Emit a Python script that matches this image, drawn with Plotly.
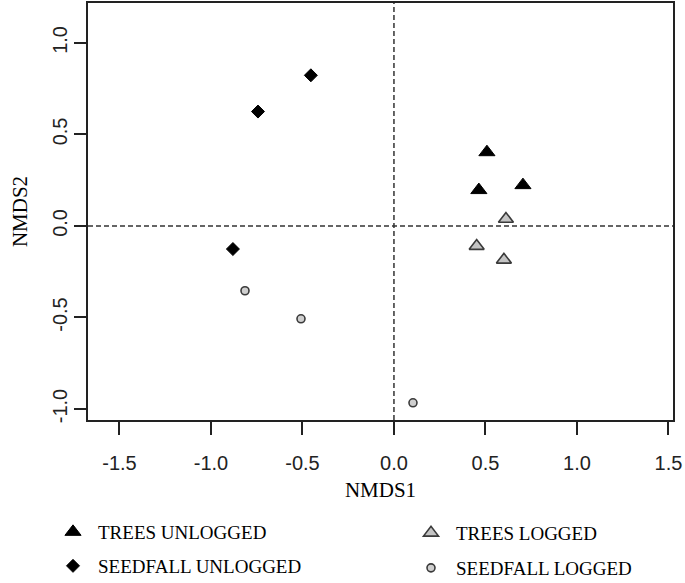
import plotly.graph_objects as go

# Data
tu_x = [0.508, 0.464, 0.705]
tu_y = [0.403, 0.196, 0.223]
tl_x = [0.612, 0.452, 0.601]
tl_y = [0.038, -0.110, -0.185]
su_x = [-0.454, -0.743, -0.880]
su_y = [0.823, 0.625, -0.126]
sl_x = [-0.814, -0.508, 0.104]
sl_y = [-0.354, -0.507, -0.966]

x_ticks = [-1.5, -1.0, -0.5, 0.0, 0.5, 1.0, 1.5]
y_ticks = [-1.0, -0.5, 0.0, 0.5, 1.0]

serif = "Liberation Serif, Times New Roman, serif"
sans = "Liberation Sans, Arial, sans-serif"

fig = go.Figure()
fig.add_trace(go.Scatter(x=tu_x, y=tu_y, mode="markers", name="TREES UNLOGGED",
                         marker=dict(symbol="triangle-up", size=14, color="black",
                                     line=dict(color="black", width=1)),
                         legend="legend"))
fig.add_trace(go.Scatter(x=tl_x, y=tl_y, mode="markers", name="TREES LOGGED",
                         marker=dict(symbol="triangle-up", size=13, color="#c4c4c4",
                                     line=dict(color="#3a3a3a", width=1.6)),
                         legend="legend3"))
fig.add_trace(go.Scatter(x=su_x, y=su_y, mode="markers", name="SEEDFALL UNLOGGED",
                         marker=dict(symbol="diamond", size=10, color="black",
                                     line=dict(color="black", width=1)),
                         legend="legend2"))
fig.add_trace(go.Scatter(x=sl_x, y=sl_y, mode="markers", name="SEEDFALL LOGGED",
                         marker=dict(symbol="circle", size=8, color="#cfcfcf",
                                     line=dict(color="#3a3a3a", width=1.6)),
                         legend="legend4"))

dash = dict(color="#333333", width=1.5, dash="5px,3px")
fig.add_shape(type="line", xref="x", yref="paper", x0=0, x1=0, y0=0, y1=1, line=dash, layer="below")
fig.add_shape(type="line", xref="paper", yref="y", x0=0, x1=1, y0=0, y1=0, line=dash, layer="below")

leg_common = dict(orientation="h", xref="container", yref="container",
                  xanchor="left", yanchor="middle", itemwidth=40,
                  font=dict(family=serif, size=19, color="black"),
                  bgcolor="rgba(0,0,0,0)", borderwidth=0)

fig.update_layout(
    width=685, height=583,
    margin=dict(l=88, r=12, t=3, b=163),
    plot_bgcolor="white", paper_bgcolor="white",
    showlegend=True,
    legend=dict(x=48 / 685, y=1 - 532 / 583, **leg_common),
    legend2=dict(x=48 / 685, y=1 - 566 / 583, **leg_common),
    legend3=dict(x=406 / 685, y=1 - 533 / 583, **leg_common),
    legend4=dict(x=406 / 685, y=1 - 568 / 583, **leg_common),
    xaxis=dict(range=[-1.672, 1.525], tickvals=x_ticks,
               ticktext=[f"{v:.1f}" for v in x_ticks], automargin=False,
               showgrid=False, zeroline=False, showline=True, mirror=True,
               linecolor="#222", linewidth=1.5, ticks="outside", ticklen=13,
               tickcolor="#222", tickwidth=1.5, ticklabelstandoff=11,
               tickfont=dict(family=sans, size=20, color="#222"),
               title=dict(text="NMDS1", font=dict(family=serif, size=21, color="black"), standoff=10)),
    yaxis=dict(range=[-1.06, 1.218], tickvals=y_ticks,
               ticktext=[f"{v:.1f}" for v in y_ticks], tickangle=-90, automargin=False,
               showgrid=False, zeroline=False, showline=True, mirror=True,
               linecolor="#222", linewidth=1.5, ticks="outside", ticklen=12,
               tickcolor="#222", tickwidth=1.5, ticklabelstandoff=-1,
               tickfont=dict(family=sans, size=20, color="#222"),
               title=dict(text="NMDS2", font=dict(family=serif, size=21, color="black"), standoff=16)),
)
fig.write_html("out.html", config={"displayModeBar": False},
               post_script="document.body.style.margin='0px';")
